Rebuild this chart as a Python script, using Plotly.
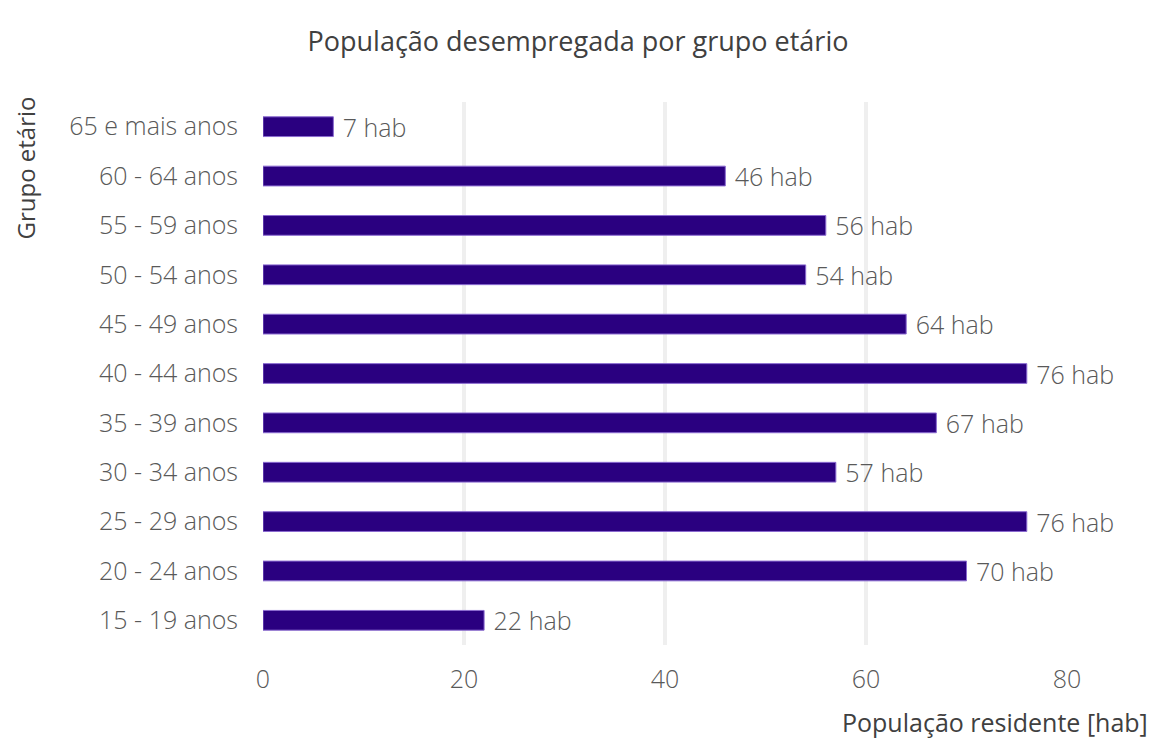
import plotly.graph_objects as go

grupos = ["15 - 19 anos", "20 - 24 anos", "25 - 29 anos", "30 - 34 anos",
          "35 - 39 anos", "40 - 44 anos", "45 - 49 anos", "50 - 54 anos",
          "55 - 59 anos", "60 - 64 anos", "65 e mais anos"]
desempregados = [22, 70, 76, 57, 67, 76, 64, 54, 56, 46, 7]
x_ticks = [0, 20, 40, 60, 80]

FONT = "Open Sans"
GREY = "#595959"
DARK = "#404040"

ML, MR, MT, MB = 263, 89, 102, 106
PW = 1156 - ML - MR
PH = 751 - MT - MB

fig = go.Figure(go.Bar(
    x=desempregados,
    y=grupos,
    orientation="h",
    width=0.4,
    marker=dict(color="#2a0080", line=dict(color="#8a6ad0", width=1)),
    text=[f" {v} hab" for v in desempregados],
    textposition="outside",
    constraintext="none",
    textfont=dict(family=FONT, size=25, color=GREY, weight=300),
    cliponaxis=False,
))

fig.update_layout(
    width=1156, height=751,
    margin=dict(l=ML, r=MR, t=MT, b=MB),
    paper_bgcolor="white", plot_bgcolor="white",
    showlegend=False,
    font=dict(family=FONT, color=GREY),
    title=dict(text="População desempregada por grupo etário",
               x=0.5, xanchor="center", y=1 - 42 / 751, yanchor="middle",
               font=dict(family=FONT, size=27, color=DARK)),
    xaxis=dict(range=[0, 80], tickvals=x_ticks, showgrid=True,
               gridcolor="#efefef", gridwidth=4, zeroline=False,
               showline=False, ticks="",
               tickfont=dict(family=FONT, size=25, color=GREY, weight=300),
               ticklabelstandoff=17),
    yaxis=dict(categoryorder="array", categoryarray=grupos, showgrid=False,
               zeroline=False, showline=False, ticks="",
               tickfont=dict(family=FONT, size=25, color=GREY, weight=300),
               ticklabelstandoff=24),
    annotations=[
        dict(text="População residente [hab]", xref="paper", yref="paper",
             x=1 + (1150 - 1067) / PW, y=-(722 - (MT + PH)) / PH,
             xanchor="right", yanchor="middle",
             showarrow=False, font=dict(family=FONT, size=25, color=DARK)),
        dict(text="Grupo etário", xref="paper", yref="paper",
             x=-(ML - 25) / PW, y=1 + 7 / PH, xanchor="center", yanchor="top",
             textangle=-90, showarrow=False,
             font=dict(family=FONT, size=24, color=DARK)),
    ],
)

fig.write_html("out.html")
